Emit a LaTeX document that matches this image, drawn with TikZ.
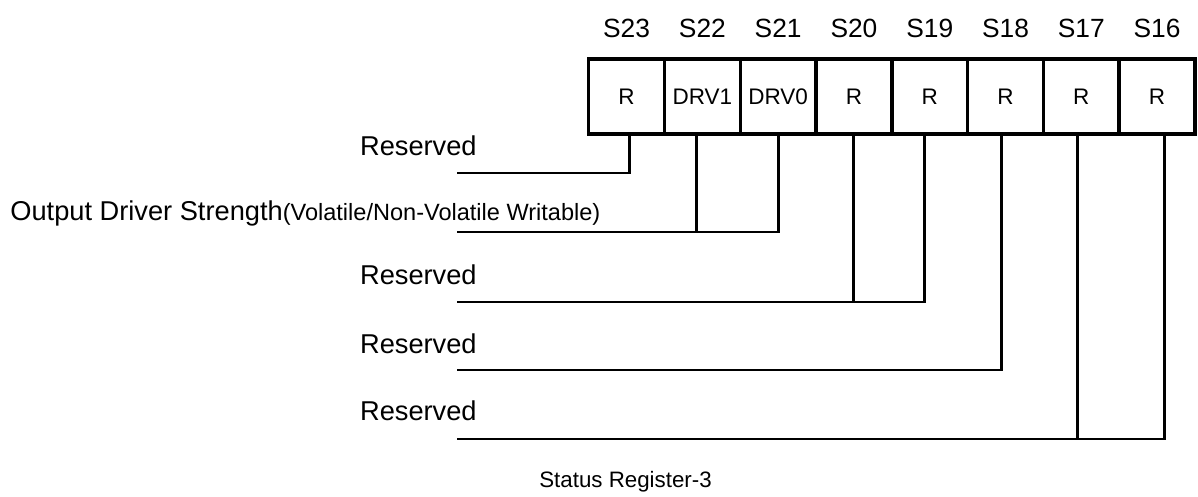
\documentclass[tikz,border=0pt]{standalone}
\usepackage{fontspec}
\setmainfont{Liberation Sans}
\usetikzlibrary{positioning}
\begin{document}
\begin{tikzpicture}[x=0.02cm,y=-0.02cm,
    bitcell/.style={draw,line width=2pt,minimum width=1.516cm,minimum height=1.5cm,
      inner sep=0pt,outer sep=0pt,font=\fontsize{12.8}{14}\selectfont},
    bitname/.style={anchor=base,inner sep=0pt,font=\fontsize{15}{18}\selectfont},
    fieldname/.style={anchor=base east,inner sep=0pt,font=\fontsize{15.5}{18}\selectfont},
    wire/.style={line width=1.7pt}]
  \useasboundingbox (0,0) rectangle (1198,497);
  % register cells
  \node[bitcell] (s23) at (626.6,96.5) {R};
  \node[bitcell,right=0pt of s23] (s22) {DRV1};
  \node[bitcell,right=0pt of s22] (s21) {DRV0};
  \node[bitcell,right=0pt of s21] (s20) {R};
  \node[bitcell,right=0pt of s20] (s19) {R};
  \node[bitcell,right=0pt of s19] (s18) {R};
  \node[bitcell,right=0pt of s18] (s17) {R};
  \node[bitcell,right=0pt of s17] (s16) {R};
  % bit numbers
  \node[bitname] (n23) at ([yshift=0.44cm]s23.north) {S23};
  \node[bitname] (n22) at ([yshift=0.44cm]s22.north) {S22};
  \node[bitname] (n21) at ([yshift=0.44cm]s21.north) {S21};
  \node[bitname] (n20) at ([yshift=0.44cm]s20.north) {S20};
  \node[bitname] (n19) at ([yshift=0.44cm]s19.north) {S19};
  \node[bitname] (n18) at ([yshift=0.44cm]s18.north) {S18};
  \node[bitname] (n17) at ([yshift=0.44cm]s17.north) {S17};
  \node[bitname] (n16) at ([yshift=0.44cm]s16.north) {S16};
  % field names
  \node[fieldname] (f1) at (477,155) {Reserved};
  \node[anchor=base west,inner sep=0pt,font=\fontsize{15.5}{18}\selectfont] (f2) at (10,220)
    {Output Driver Strength{\fontsize{13.4}{16}\selectfont(Volatile/Non-Volatile Writable)}};
  \node[fieldname] (f3) at (477,284) {Reserved};
  \node[fieldname] (f4) at (477,353) {Reserved};
  \node[fieldname] (f5) at (477,420) {Reserved};
  \node[anchor=base west,inner sep=0pt,font=\fontsize{12.7}{15}\selectfont] (cap) at (539,487)
    {Status Register-3};
  % line ends
  \coordinate (e1) at (457,173);
  \coordinate (e2) at (457,232);
  \coordinate (e3) at (457,302);
  \coordinate (e4) at (457,370);
  \coordinate (e5) at (457,439);
  \draw[wire] (e1) -| ([xshift=0.06cm]s23.south);
  \draw[wire] (e2) -| (s21.south);
  \draw[wire] ([xshift=-0.12cm]s22.south) -- ([xshift=-0.12cm]s22.south |- e2);
  \draw[wire] (e3) -| ([xshift=-0.1cm]s19.south);
  \draw[wire] (s20.south) -- (s20.south |- e3);
  \draw[wire] (e4) -| ([xshift=-0.08cm]s18.south);
  \draw[wire] (e5) -| ([xshift=0.14cm]s16.south);
  \draw[wire] ([xshift=-0.08cm]s17.south) -- ([xshift=-0.08cm]s17.south |- e5);
\end{tikzpicture}
\end{document}
